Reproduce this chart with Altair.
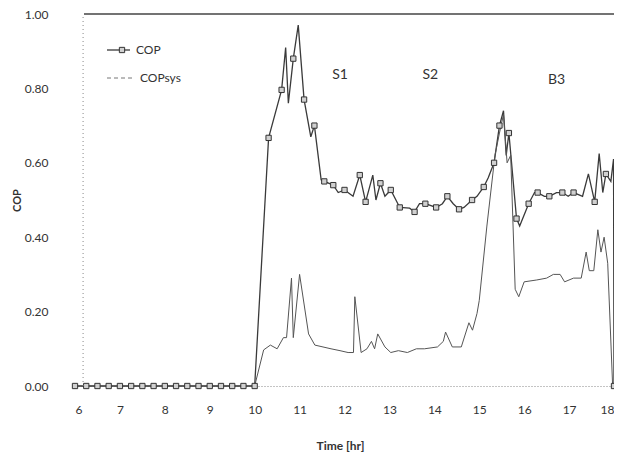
import altair as alt
import pandas as pd

# ---- data ----
cop_t = [6.0, 6.25, 6.5, 6.75, 7.0, 7.25, 7.5, 7.75, 8.0, 8.25, 8.5, 8.75, 9.0, 9.25, 9.5, 9.75, 10.0,
         10.31, 10.6, 10.69, 10.75, 10.86, 10.97, 11.1, 11.25, 11.33, 11.48, 11.55, 11.75, 11.86, 12.0,
         12.19, 12.34, 12.47, 12.63, 12.70, 12.8, 12.9, 13.03, 13.23, 13.45, 13.56, 13.67, 13.8, 14.04,
         14.18, 14.29, 14.42, 14.55, 14.66, 14.84, 14.95, 15.1, 15.2, 15.33, 15.45, 15.54, 15.6, 15.66,
         15.83, 15.9, 16.1, 16.23, 16.3, 16.45, 16.56, 16.72, 16.85, 16.98, 17.1, 17.3, 17.43, 17.57,
         17.67, 17.75, 17.82, 17.93, 17.99, 18.0]
cop_v = [0.0, 0.0, 0.0, 0.0, 0.0, 0.0, 0.0, 0.0, 0.0, 0.0, 0.0, 0.0, 0.0, 0.0, 0.0, 0.0, 0.0,
         0.667, 0.796, 0.91, 0.76, 0.88, 0.97, 0.77, 0.67, 0.70, 0.554, 0.55, 0.54, 0.52, 0.527,
         0.51, 0.567, 0.495, 0.567, 0.50, 0.545, 0.51, 0.527, 0.48, 0.478, 0.468, 0.49, 0.49, 0.48,
         0.49, 0.51, 0.49, 0.475, 0.48, 0.50, 0.51, 0.535, 0.56, 0.60, 0.70, 0.74, 0.62, 0.68,
         0.45, 0.43, 0.49, 0.52, 0.52, 0.51, 0.51, 0.52, 0.52, 0.51, 0.52, 0.51, 0.57, 0.495,
         0.625, 0.52, 0.57, 0.55, 0.61, 0.0]
cop_marker = [1, 1, 1, 1, 1, 1, 1, 1, 1, 1, 1, 1, 1, 1, 1, 1, 1,
              1, 1, 0, 0, 1, 0, 1, 0, 1, 0, 1, 1, 0, 1,
              0, 1, 1, 0, 0, 1, 0, 1, 1, 0, 1, 0, 1, 1,
              0, 1, 0, 1, 0, 1, 0, 1, 0, 1, 1, 0, 0, 1,
              1, 0, 1, 0, 1, 0, 1, 0, 1, 0, 1, 0, 0, 1,
              0, 0, 1, 0, 0, 1]

sys_t = [6.0, 10.0, 10.2, 10.35, 10.5, 10.64, 10.71, 10.82, 10.86, 11.0, 11.2, 11.34, 11.7, 11.9,
         12.08, 12.2, 12.23, 12.37, 12.5, 12.6, 12.67, 12.74, 12.9, 13.03, 13.2, 13.4, 13.6, 13.78,
         14.07, 14.2, 14.25, 14.4, 14.6, 14.77, 14.85, 14.95, 15.0, 15.17, 15.35, 15.45, 15.54, 15.62,
         15.7, 15.8, 15.88, 16.0, 16.28, 16.5, 16.65, 16.8, 16.9, 17.1, 17.27, 17.38, 17.45, 17.55,
         17.64, 17.71, 17.78, 17.86, 17.97, 18.0]
sys_v = [0.0, 0.0, 0.097, 0.11, 0.10, 0.13, 0.13, 0.29, 0.13, 0.30, 0.14, 0.11, 0.10, 0.095,
         0.09, 0.09, 0.24, 0.09, 0.10, 0.12, 0.10, 0.14, 0.105, 0.09, 0.095, 0.09, 0.10, 0.10,
         0.105, 0.12, 0.145, 0.105, 0.105, 0.17, 0.15, 0.195, 0.23, 0.43, 0.62, 0.68, 0.73, 0.60,
         0.62, 0.26, 0.24, 0.28, 0.285, 0.29, 0.30, 0.30, 0.28, 0.29, 0.29, 0.36, 0.31, 0.31,
         0.42, 0.36, 0.40, 0.33, 0.0, 0.0]

labels = ["S1", "S2", "B3"]
label_t = [11.9, 13.91, 16.72]
label_v = [0.836, 0.836, 0.823]

y_ticks = [0.0, 0.1, 0.2, 0.3, 0.4, 0.5, 0.6, 0.7, 0.8, 0.9, 1.0]
x_ticks = list(range(6, 19))

FONT = "Lato"
INK = "#333333"

cop_df = pd.DataFrame({"t": cop_t, "v": cop_v, "m": cop_marker, "i": range(len(cop_t))})
sys_df = pd.DataFrame({"t": sys_t, "v": sys_v, "i": range(len(sys_t))})
lab_df = pd.DataFrame({"t": label_t, "v": label_v, "s": labels})

x_scale = alt.Scale(domain=[6, 18], nice=False, zero=False)
y_scale = alt.Scale(domain=[0, 1], nice=False)

x_axis = alt.Axis(values=x_ticks, format="d", title="Time [hr]", grid=False, ticks=False,
                  labelPadding=18, labelFontSize=12, labelColor=INK, labelFont=FONT,
                  domainColor="#888888", domainDash=[1, 2], domainWidth=1,
                  titleFont=FONT, titleFontSize=12, titleFontWeight="bold", titleColor=INK,
                  titleX=265, titleY=59, titleBaseline="middle", titleAlign="center")
y_axis = alt.Axis(values=y_ticks, format=".2f", title="COP", grid=False, ticks=False, domain=False,
                  labelPadding=27, labelFontSize=12, labelColor=INK, labelFont=FONT,
                  titleFont=FONT, titleFontSize=11, titleFontWeight="bold", titleColor=INK,
                  titleX=-58, titleY=186, titleBaseline="middle", titleAlign="center", titleAngle=-90)

base_x = alt.X("t:Q", scale=x_scale, axis=x_axis)
base_y = alt.Y("v:Q", scale=y_scale, axis=y_axis)

sys_line = alt.Chart(sys_df).mark_line(color="#555555", strokeWidth=1).encode(
    x=alt.X("t:Q", scale=x_scale), y=alt.Y("v:Q", scale=y_scale), order="i:Q")

cop_line = alt.Chart(cop_df).mark_line(color="#3a3a3a", strokeWidth=1.3).encode(
    x=base_x, y=base_y, order="i:Q")

cop_pts = alt.Chart(cop_df).transform_filter("datum.m == 1").mark_point(
    shape="square", size=28, filled=True, fill="#d0d0d0", stroke="#333333", strokeWidth=1, opacity=1
).encode(x=alt.X("t:Q", scale=x_scale), y=alt.Y("v:Q", scale=y_scale))

top_rule = alt.Chart(pd.DataFrame({"a": [6.2], "b": [18.0], "v": [1.0]})).mark_rule(
    color="#444444", strokeWidth=1.3).encode(
    x=alt.X("a:Q", scale=x_scale), x2="b:Q", y=alt.Y("v:Q", scale=y_scale))

left_rule = alt.Chart(pd.DataFrame({"a": [6.18], "v": [0.0], "v2": [1.0]})).mark_rule(
    color="#888888", strokeWidth=1, strokeDash=[1, 3]).encode(
    x=alt.X("a:Q", scale=x_scale), y=alt.Y("v:Q", scale=y_scale), y2="v2:Q")

text = alt.Chart(lab_df).mark_text(font=FONT, fontSize=14, color=INK).encode(
    x=alt.X("t:Q", scale=x_scale), y=alt.Y("v:Q", scale=y_scale), text="s:N")

# legend (drawn manually)
leg1_line = alt.Chart(pd.DataFrame({"k": [0]})).mark_rule(color="#3a3a3a", strokeWidth=1.3).encode(
    x=alt.value(32), x2=alt.value(55), y=alt.value(36))
leg1_pt = alt.Chart(pd.DataFrame({"k": [0]})).mark_point(
    shape="square", size=28, filled=True, fill="#d0d0d0", stroke="#333333", strokeWidth=1, opacity=1
).encode(x=alt.value(47), y=alt.value(36))
leg1_txt = alt.Chart(pd.DataFrame({"k": ["COP"]})).mark_text(
    font=FONT, fontSize=12, color=INK, align="left", baseline="middle").encode(
    x=alt.value(61), y=alt.value(36), text="k:N")
leg2_line = alt.Chart(pd.DataFrame({"k": [0]})).mark_rule(
    color="#777777", strokeWidth=1, strokeDash=[4, 3]).encode(
    x=alt.value(32), x2=alt.value(60), y=alt.value(64))
leg2_txt = alt.Chart(pd.DataFrame({"k": ["COPsys"]})).mark_text(
    font=FONT, fontSize=12, color=INK, align="left", baseline="middle").encode(
    x=alt.value(65), y=alt.value(64), text="k:N")

chart = alt.layer(
    cop_line, sys_line, cop_pts, top_rule, left_rule, text,
    leg1_line, leg1_pt, leg1_txt, leg2_line, leg2_txt
).properties(
    width=539, height=372,
    autosize=alt.AutoSizeParams(type="none"),
    padding={"left": 67, "top": 6, "right": 0, "bottom": 69},
    background="white"
).configure_view(stroke=None)

chart.save("out.html", embed_options={"renderer": "svg", "actions": False})
